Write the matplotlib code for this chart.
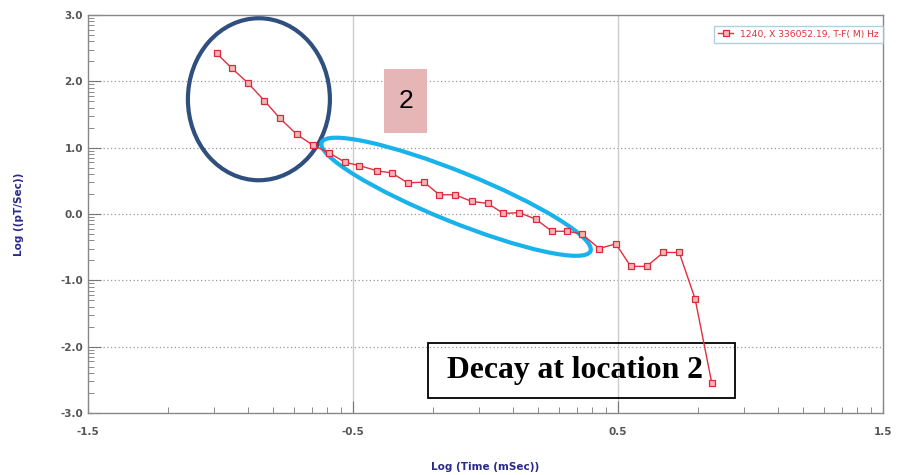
import numpy as np
import matplotlib.pyplot as plt
from matplotlib.patches import Ellipse, Rectangle
from matplotlib import transforms

# decay curve
log_time = [-1.014, -0.958, -0.895, -0.835, -0.775, -0.712, -0.652, -0.589,
            -0.530, -0.476, -0.408, -0.354, -0.294, -0.232, -0.174, -0.115,
            -0.052, 0.008, 0.067, 0.128, 0.191, 0.250, 0.308, 0.363,
            0.429, 0.492, 0.548, 0.608, 0.671, 0.731, 0.791, 0.854]
log_dbdt = [2.42, 2.20, 1.97, 1.71, 1.44, 1.20, 1.04, 0.92,
            0.78, 0.73, 0.65, 0.62, 0.47, 0.48, 0.29, 0.29,
            0.19, 0.16, 0.01, 0.02, -0.08, -0.26, -0.26, -0.30,
            -0.52, -0.45, -0.79, -0.79, -0.58, -0.58, -1.28, -2.55]
x_major = [-1.5, -0.5, 0.5, 1.5]
y_major = [3.0, 2.0, 1.0, 0.0, -1.0, -2.0, -3.0]
legend_label = "1240, X 336052.19, T-F( M) Hz"

fig = plt.figure(figsize=(9.05, 4.75), dpi=100)
ax = fig.add_axes([0.0972, 0.1305, 0.8785, 0.8379])

ax.plot(log_time, log_dbdt, color='#e0303c', lw=1.0, marker='s', ms=4.5,
        mfc='#f6b3ba', mec='#d82a3a', mew=0.9, label=legend_label, zorder=7)

ax.set_xlim(-1.5, 1.5)
ax.set_ylim(-3.0, 3.0)
ax.set_xticks(x_major)
ax.set_yticks(y_major)
ax.set_xticklabels([f"{v:.1f}" for v in x_major])
ax.set_yticklabels([f"{v:.1f}" for v in y_major])

# log style minor ticks inside each unit
logs = np.log10(np.arange(2, 10))
ax.set_xticks([d + l for d in x_major[:-1] for l in logs], minor=True)
ax.set_yticks([d + l for d in y_major[1:] for l in logs], minor=True)
ax.tick_params(which='both', direction='in', color='#777777')
ax.tick_params(which='major', length=9, labelsize=7.5, labelcolor='#555555')
ax.tick_params(which='minor', length=4)
for lab in ax.get_xticklabels() + ax.get_yticklabels():
    lab.set_fontweight('bold')
ax.tick_params(axis='x', pad=10)

for s in ax.spines.values():
    s.set_color('#888888')
    s.set_linewidth(1.0)

for y in y_major[1:-1]:
    ax.axhline(y, color='#999999', lw=0.9, ls=(0, (1, 2)), zorder=1)
for x in x_major[1:-1]:
    ax.axvline(x, color='#cccccc', lw=1.0, zorder=1)

ax.set_xlabel("Log (Time (mSec))", color='#2a2a8a', fontsize=7.5,
              fontweight='bold', labelpad=18)
ax.set_ylabel("Log ((pT/Sec))", color='#2a2a8a', fontsize=7.5,
              fontweight='bold', labelpad=26)

leg = ax.legend(loc='upper right', fontsize=6.6, frameon=True, fancybox=False,
                borderpad=0.45, handlelength=1.6, bbox_to_anchor=(1.006, 0.985))
leg.get_frame().set_edgecolor('#9fc5d6')
for t in leg.get_texts():
    t.set_color('#e0303c')


# annotations placed in inches around a data point
def at(x, y):
    return fig.dpi_scale_trans + transforms.ScaledTranslation(x, y, ax.transData)


def pix_ellipse(cx, cy, w, h, ang, col):
    ax.add_patch(Ellipse((0, 0), w, h, angle=ang, transform=at(cx, cy), fill=False,
                         ec=col, lw=3, zorder=4, clip_on=False))


pix_ellipse(-0.855, 1.73, 1.42, 1.62, 0, '#2f4f7f')
pix_ellipse(-0.111, 0.26, 2.90, 0.50, -22, '#19b2ea')

# pink label box
ax.add_patch(Rectangle((-0.215, -0.32), 0.43, 0.64, transform=at(-0.30, 1.71),
                       fc='#e6b5b5', ec='none', zorder=4, clip_on=False))
ax.text(-0.30, 1.71, "2", fontsize=19, color='black', ha='center', va='center',
        family='Liberation Sans', zorder=5)

# caption box
ax.add_patch(Rectangle((-1.53, -0.27), 3.07, 0.55, transform=at(0.36, -2.36),
                       fc='none', ec='black', lw=1.3, zorder=5, clip_on=False))
ax.text(-1.5 + (447 - 88) / 265, -2.36, "Decay at location 2", fontsize=22.8,
        fontweight='bold', family='Liberation Serif', ha='left', va='center',
        zorder=6)

fig.savefig('out.png', dpi=100)
